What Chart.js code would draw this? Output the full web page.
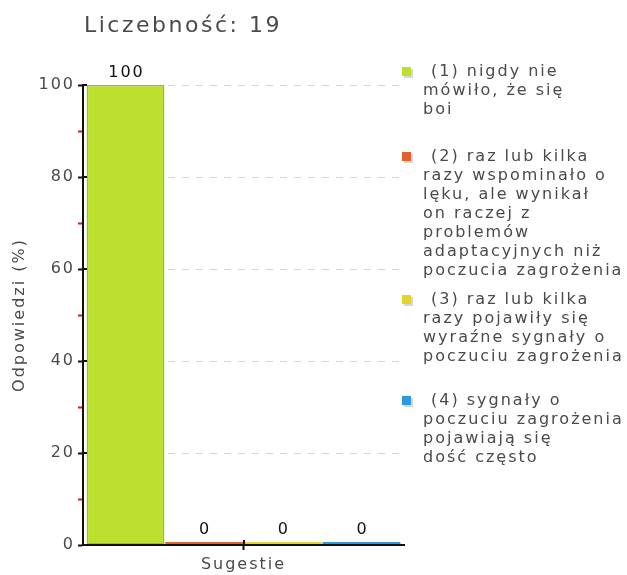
<!DOCTYPE html>
<html>
<head>
<meta charset="utf-8">
<script src="https://cdn.jsdelivr.net/npm/chart.js@4.4.0/dist/chart.umd.min.js"></script>
<style>
  body { margin: 0; background: #fff; }
  #wrap { width: 627px; height: 575px; }
</style>
</head>
<body>
<div id="wrap"><canvas id="chart" width="627" height="575"></canvas></div>
<script>
// data
var chartTitle = 'Liczebność: 19';
var categories = ['Sugestie'];
var seriesLabels = [
    ['(1) nigdy nie', 'mówiło, że się', 'boi'],
    ['(2) raz lub kilka', 'razy wspominało o', 'lęku, ale wynikał', 'on raczej z', 'problemów', 'adaptacyjnych niż', 'poczucia zagrożenia'],
    ['(3) raz lub kilka', 'razy pojawiły się', 'wyraźne sygnały o', 'poczuciu zagrożenia'],
    ['(4) sygnały o', 'poczuciu zagrożenia', 'pojawiają się', 'dość często']
];
var seriesValues = [[100], [0], [0], [0]];
var seriesColors = ['#bde02f', '#e0622c', '#e2d52c', '#2d97e2'];
var seriesBorders = ['#9bbf1c', '#e0622c', '#e2d52c', '#2d97e2'];
var yAxisTitle = 'Odpowiedzi (%)';
var yMin = 0, yMax = 100, yStep = 10, yLabelStep = 20;

// legend slot positions (first line centre)
var legendY = [72, 157, 300, 401];

var FONT = "'DejaVu Sans', Verdana, sans-serif";
var TEXT = '#4a4a4a';

var spacingPlugin = {
    id: 'spacing',
    beforeUpdate: function (chart) { chart.ctx.letterSpacing = '2px'; },
    beforeDraw: function (chart) { chart.ctx.letterSpacing = '2px'; }
};

// major ticks poke a little into the plot, like the original
var innerTicks = {
    id: 'innerTicks',
    afterDraw: function (chart) {
        var ctx = chart.ctx, y = chart.scales.y, x = chart.scales.x;
        ctx.save();
        ctx.strokeStyle = '#111';
        ctx.lineWidth = 2;
        ctx.beginPath();
        for (var v = yMin + yLabelStep; v <= yMax; v += yLabelStep) {
            var py = Math.round(y.getPixelForValue(v));
            ctx.moveTo(y.right, py);
            ctx.lineTo(y.right + 4, py);
        }
        var px = Math.round(x.getPixelForValue(0));
        ctx.moveTo(px, x.top);
        ctx.lineTo(px, x.top - 5);
        ctx.stroke();
        ctx.restore();
    }
};

var valueLabels = {
    id: 'valueLabels',
    afterDatasetsDraw: function (chart) {
        var ctx = chart.ctx;
        ctx.save();
        ctx.font = '16px ' + FONT;
        ctx.fillStyle = '#111';
        ctx.textAlign = 'center';
        ctx.textBaseline = 'bottom';
        chart.data.datasets.forEach(function (ds, i) {
            chart.getDatasetMeta(i).data.forEach(function (bar, j) {
                var top = Math.min(bar.y, bar.base);
                ctx.fillText(String(ds.data[j]), bar.x + 1, top - 4);
            });
        });
        ctx.restore();
    }
};

var titleAndLegend = {
    id: 'titleAndLegend',
    afterDraw: function (chart) {
        var ctx = chart.ctx;
        ctx.save();
        ctx.letterSpacing = '2.5px';
        ctx.font = '22px ' + FONT;
        ctx.fillStyle = TEXT;
        ctx.textAlign = 'left';
        ctx.textBaseline = 'middle';
        ctx.fillText(chartTitle, 84, 26);

        ctx.letterSpacing = '2px';
        ctx.font = '16px ' + FONT;
        chart.data.datasets.forEach(function (ds, i) {
            var y0 = legendY[i];
            ctx.fillStyle = '#d6d6d6';
            ctx.fillRect(404, y0 - 3, 9, 9);
            ctx.fillStyle = seriesColors[i];
            ctx.fillRect(402, y0 - 5, 9, 9);
            ctx.fillStyle = TEXT;
            ds.label.forEach(function (line, k) {
                ctx.fillText(line, k === 0 ? 431 : 423, y0 + k * 19);
            });
        });
        ctx.restore();
    }
};

var datasets = seriesLabels.map(function (lab, i) {
    return {
        label: lab,
        data: seriesValues[i],
        backgroundColor: seriesColors[i],
        borderColor: seriesBorders[i],
        borderWidth: seriesValues[i][0] > 0 ? 1.5 : 0,
        borderSkipped: false,
        minBarLength: 3,
        categoryPercentage: 0.98,
        barPercentage: 0.99
    };
});

Chart.defaults.font.family = FONT;
Chart.defaults.font.size = 16;
Chart.defaults.color = TEXT;

var ctx = document.getElementById('chart').getContext('2d');
var myChart = new Chart(ctx, {
    type: 'bar',
    data: {
        labels: categories,
        datasets: datasets
    },
    options: {
        responsive: false,
        animation: false,
        layout: { padding: { top: 85, right: 223, left: 0, bottom: 0 } },
        plugins: {
            legend: { display: false },
            title: { display: false },
            tooltip: { enabled: false }
        },
        scales: {
            x: {
                grid: {
                    drawOnChartArea: false,
                    offset: false,
                    tickLength: 5,
                    tickWidth: 2,
                    tickColor: '#111'
                },
                border: { color: '#111', width: 2, z: 1 },
                ticks: { padding: 5, color: TEXT },
                afterFit: function (scale) { scale.height = 30; }
            },
            y: {
                min: yMin,
                max: yMax,
                ticks: {
                    stepSize: yStep,
                    padding: 3,
                    color: TEXT,
                    callback: function (v) { return v % yLabelStep === 0 ? v : ''; }
                },
                grid: {
                    color: function (c) {
                        var v = c.tick ? c.tick.value : 0;
                        return (v % yLabelStep === 0 && v !== 0) ? '#d4d4d4' : 'rgba(0,0,0,0)';
                    },
                    tickColor: function (c) {
                        var v = c.tick ? c.tick.value : 0;
                        return v % yLabelStep === 0 ? '#111' : '#ee1111';
                    },
                    tickLength: 5,
                    tickWidth: 2,
                    lineWidth: 1
                },
                border: { color: '#111', width: 2, dash: [7, 7], z: 1 },
                title: {
                    display: true,
                    text: yAxisTitle,
                    color: TEXT,
                    padding: { top: 10, bottom: 0 }
                },
                afterFit: function (scale) { scale.width = 83; }
            }
        }
    },
    plugins: [spacingPlugin, valueLabels, innerTicks, titleAndLegend]
});
</script>
</body>
</html>
